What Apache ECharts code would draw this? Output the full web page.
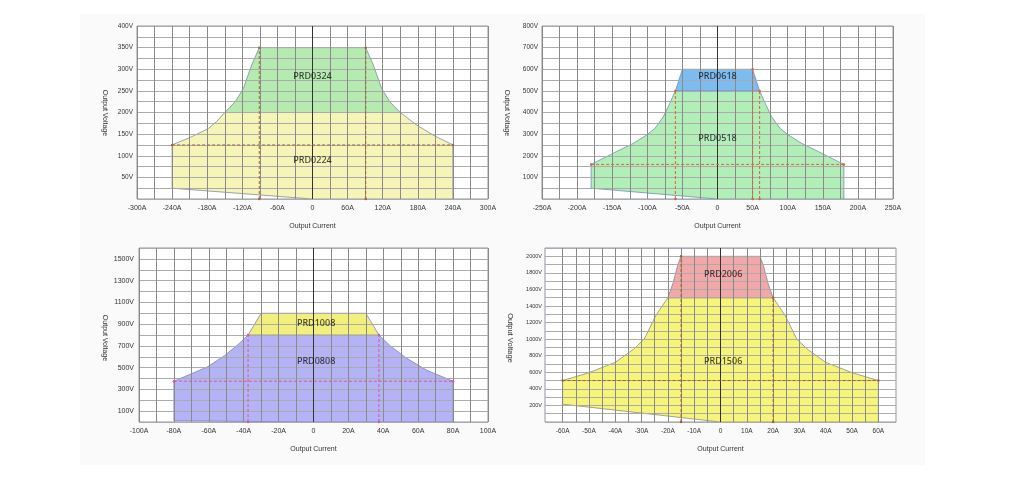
<!DOCTYPE html>
<html>
<head>
<meta charset="utf-8">
<script src="https://cdn.jsdelivr.net/npm/echarts@6/dist/echarts.min.js"></script>
<style>
  html, body { margin: 0; padding: 0; background: #fff; }
  #main { width: 1024px; height: 478px; }
</style>
</head>
<body>
<div id="main"></div>
<script>
// points are [current A, voltage V]

// -- PRD0224 / PRD0324 --
let prd0224 = [[-240, 25], [-240, 125], [-208, 143], [-178, 163], [-164, 179], [-150, 200],
  [150, 200], [178, 171], [206, 148], [240, 125], [240, 0], [0, 0]];
let prd0324 = [[-150, 200], [-132, 225], [-118, 256], [-104, 310], [-91, 350],
  [91, 350], [104, 310], [118, 256], [132, 225], [150, 200]];
let dash1 = [[[-91, 0], [-91, 350]], [[91, 0], [91, 350]], [[-240, 125], [240, 125]]];
let names1 = [['PRD0324', 0, 284], ['PRD0224', 0, 89]];
let xLabels1 = [-300, -240, -180, -120, -60, 0, 60, 120, 180, 240, 300];
let yLabels1 = [50, 100, 150, 200, 250, 300, 350, 400];

// -- PRD0518 / PRD0618 --
let prd0518 = [[-180, 50], [-180, 160], [-144, 219], [-120, 257], [-101, 296], [-89, 327], [-77, 381],
  [-68, 442], [-60, 500], [60, 500], [68, 442], [77, 381], [89, 327], [101, 296], [120, 257],
  [144, 219], [180, 160], [180, 0], [0, 0]];
let prd0618 = [[-60, 500], [-50, 600], [50, 600], [60, 500]];
let dash2 = [[[-60, 0], [-60, 500]], [[50, 0], [50, 600]], [[60, 0], [60, 500]], [[-180, 160], [180, 160]]];
let names2 = [['PRD0618', 0, 569], ['PRD0518', 0, 281]];
let xLabels2 = [-250, -200, -150, -100, -50, 0, 50, 100, 150, 200, 250];
let yLabels2 = [100, 200, 300, 400, 500, 600, 700, 800];

// -- PRD0808 / PRD1008 --
let prd0808 = [[-80, 12], [-80, 375], [-61, 505], [-51, 610], [-43, 715], [-37.5, 800],
  [37.5, 800], [44, 700], [53, 590], [65, 475], [80, 375], [80, 0], [0, 0]];
let prd1008 = [[-37.5, 800], [-30, 1000], [30, 1000], [37.5, 800]];
let dash3 = [[[-37.5, 0], [-37.5, 800]], [[37.5, 0], [37.5, 800]], [[-80, 375], [80, 375]]];
let names3 = [['PRD1008', 1.5, 910], ['PRD0808', 1.5, 561]];
let xLabels3 = [-100, -80, -60, -40, -20, 0, 20, 40, 60, 80, 100];
let yLabels3 = [100, 300, 500, 700, 900, 1100, 1300, 1500];

// -- PRD1506 / PRD2006 --
let prd1506 = [[-60, 215], [-60, 500], [-50, 595], [-40, 720], [-33, 880], [-29, 1000], [-24.5, 1290],
  [-20, 1500], [20, 1500], [24.5, 1290], [29, 1000], [33, 880], [40, 720], [50, 595], [60, 500],
  [60, 0], [0, 0]];
let prd2006 = [[-20, 1500], [-18, 1680], [-16.3, 1890], [-15, 2000], [15, 2000], [16.3, 1890],
  [18, 1680], [20, 1500]];
let dash4 = [[[-15, 0], [-15, 2000]], [[20, 0], [20, 1500]], [[-60, 500], [60, 500]]];
let names4 = [['PRD2006', 1, 1783], ['PRD1506', 1, 728]];
let xTicks4 = [-60, -55, -50, -45, -40, -35, -30, -25, -20, -15, -10, -5, 0,
  5, 10, 15, 20, 25, 30, 35, 40, 45, 50, 55, 60];
let xLabels4 = [-60, -50, -40, -30, -20, -10, 0, 10, 20, 30, 40, 50, 60];
let yLabels4 = [200, 400, 600, 800, 1000, 1200, 1400, 1600, 1800, 2000];

const FONT = 'Liberation Sans';

function has(list, v) {
  return list.indexOf(Math.round(v * 10) / 10) >= 0;
}

function makeX(gi, min, max, step, labels, fs) {
  return {
    type: 'value', gridIndex: gi, min: min, max: max, interval: step, z: 3,
    name: 'Output Current', nameLocation: 'middle', nameGap: 24,
    nameTextStyle: {fontSize: 7, color: '#333', fontFamily: FONT},
    axisLine: {show: false},
    axisTick: {show: false},
    axisLabel: {
      fontSize: fs, color: '#333', margin: 6, fontFamily: FONT,
      formatter: function (v) {
        if (!has(labels, v)) return '';
        return v === 0 ? '0' : v + 'A';
      }
    },
    splitLine: {show: true, lineStyle: {color: '#8a8a8a', width: 1}}
  };
}

function makeY(gi, max, step, labels, fs, margin) {
  return {
    type: 'value', gridIndex: gi, min: 0, max: max, interval: step, z: 3,
    axisLine: {show: false},
    axisTick: {show: false},
    axisLabel: {
      fontSize: fs, color: '#333', margin: margin, fontFamily: FONT,
      formatter: function (v) {
        return has(labels, v) ? v + 'V' : '';
      }
    },
    splitLine: {show: true, lineStyle: {color: '#ababab', width: 1}}
  };
}

function polySeries(gi, pts, fill, stroke) {
  return {
    type: 'custom', xAxisIndex: gi, yAxisIndex: gi, z: 2, silent: true,
    data: pts,
    renderItem: function (params, api) {
      if (params.dataIndex !== 0) return null;
      return {
        type: 'polygon',
        shape: {points: pts.map(function (p) { return api.coord(p); })},
        style: {fill: fill, stroke: stroke, lineWidth: 0.8}
      };
    }
  };
}

function dashSeries(gi, segs, color) {
  return segs.map(function (s) {
    return {
      type: 'line', xAxisIndex: gi, yAxisIndex: gi, data: s, z: 4, silent: true,
      symbol: 'circle', symbolSize: 2.5, itemStyle: {color: color},
      lineStyle: {color: color, width: 1, type: [3, 2]}
    };
  });
}

function centerSeries(gi, top) {
  return {
    type: 'line', xAxisIndex: gi, yAxisIndex: gi, data: [[0, 0], [0, top]], z: 4, silent: true,
    symbol: 'none', lineStyle: {color: '#333', width: 1}
  };
}

function nameSeries(gi, names) {
  return {
    type: 'scatter', xAxisIndex: gi, yAxisIndex: gi, z: 5, silent: true, symbolSize: 0,
    data: names.map(function (n) { return {name: n[0], value: [n[1], n[2]]}; }),
    label: {
      show: true, position: 'inside', formatter: '{b}',
      fontFamily: 'Noto Sans', fontSize: 9, fontWeight: 500, color: '#111'
    }
  };
}

function vName(x, y, fs) {
  return {
    type: 'text', x: x, y: y, rotation: -Math.PI / 2, z: 10,
    style: {
      text: 'Output Voltage', fontSize: fs, fontFamily: FONT, fill: '#333',
      textAlign: 'center', textVerticalAlign: 'middle', align: 'center', verticalAlign: 'middle'
    }
  };
}

let gridStyle = {show: true, borderColor: '#8d98a4', borderWidth: 1, backgroundColor: '#fff'};

let x4 = makeX(3, -66.7, 66.7, null, xLabels4, 6.5);
delete x4.interval;
x4.axisTick = {show: false, customValues: xTicks4};
x4.axisLabel.customValues = xLabels4;

let option = {
  animation: false,
  graphic: [
    {type: 'rect', shape: {x: 80, y: 14, width: 845, height: 451}, style: {fill: '#fafafa'}, z: -1},
    vName(105, 113, 7),
    vName(507, 113, 7),
    vName(105, 338, 7),
    vName(510, 338, 7.5)
  ],
  grid: [
    Object.assign({left: 137, top: 26, width: 351, height: 173}, gridStyle),
    Object.assign({left: 542, top: 26, width: 351, height: 173}, gridStyle),
    Object.assign({left: 139, top: 248, width: 349, height: 174}, gridStyle),
    Object.assign({left: 545, top: 248, width: 351, height: 174}, gridStyle)
  ],
  xAxis: [
    makeX(0, -300, 300, 30, xLabels1, 7),
    makeX(1, -250, 250, 25, xLabels2, 7),
    makeX(2, -100, 100, 10, xLabels3, 7),
    x4
  ],
  yAxis: [
    makeY(0, 400, 25, yLabels1, 6.5, 4),
    makeY(1, 800, 50, yLabels2, 6.5, 4),
    makeY(2, 1600, 100, yLabels3, 7, 5),
    makeY(3, 2100, 100, yLabels4, 5.5, 3)
  ],
  series: [
    polySeries(0, prd0224, '#f7f4b8', '#7f8c99'),
    polySeries(0, prd0324, '#b5ebb1', '#7f8c99'),
    centerSeries(0, 400),
    nameSeries(0, names1),

    polySeries(1, prd0518, '#b2efb8', '#6f8fae'),
    polySeries(1, prd0618, '#7dbcf0', '#6f8fae'),
    centerSeries(1, 800),
    nameSeries(1, names2),

    polySeries(2, prd0808, '#b3b3f5', '#8080c0'),
    polySeries(2, prd1008, '#f2ef7c', '#8080c0'),
    centerSeries(2, 1600),
    nameSeries(2, names3),

    polySeries(3, prd1506, '#f6f57a', '#8a8a8a'),
    polySeries(3, prd2006, '#f2a7a8', '#8a8a8a'),
    centerSeries(3, 2100),
    nameSeries(3, names4)
  ]
    .concat(dashSeries(0, dash1, '#9c6a3c'))
    .concat(dashSeries(1, dash2, '#d2663a'))
    .concat(dashSeries(2, dash3, '#d05a9a'))
    .concat(dashSeries(3, dash4, '#a06030'))
};

let chart = echarts.init(document.getElementById('main'));
chart.setOption(option);
</script>
</body>
</html>
